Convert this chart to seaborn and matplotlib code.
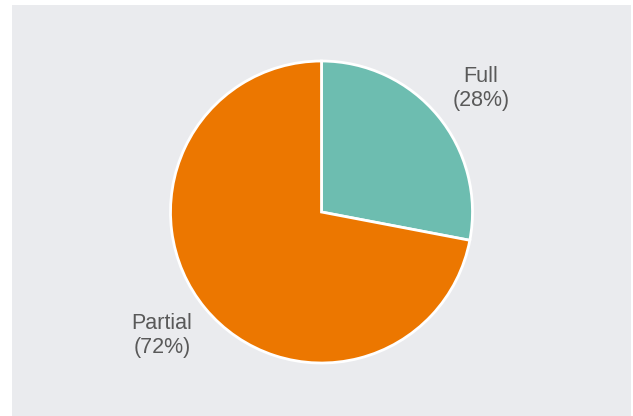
import matplotlib
matplotlib.use("Agg")
import numpy as np
import matplotlib.pyplot as plt
import seaborn as sns

categories = ["Full", "Partial"]
shares = [28, 72]
colors = sns.color_palette(["#6DBDB0", "#EC7700"])

sns.set_style("white")
plt.rcParams["font.family"] = ["Liberation Sans", "DejaVu Sans"]

W, H = 633, 416
fig = plt.figure(figsize=(W / 100, H / 100), dpi=100)
fig.patch.set_facecolor("white")

left, top, right = 12, 5, 631
ax = fig.add_axes([left / W, 0, (right - left) / W, (H - top) / H])
ax.set_facecolor("#EAEBEE")

labels = [f"{c}\n({v}%)" for c, v in zip(categories, shares)]
wedges, texts = ax.pie(
    shares,
    labels=labels,
    colors=colors,
    startangle=90,
    counterclock=False,
    wedgeprops=dict(edgecolor="white", linewidth=2),
    textprops=dict(color="#595959", fontsize=15.5),
    frame=True,
)
# place each label outside its wedge's mid-angle, slightly wider than tall
for w, t in zip(wedges, texts):
    mid = np.deg2rad((w.theta1 + w.theta2) / 2)
    t.set_position((1.37 * np.cos(mid), 1.28 * np.sin(mid)))
    t.set_horizontalalignment("center")
    t.set_verticalalignment("center")
    t.set_linespacing(1.2)

r_px = 151
ax_w = right - left
ax_h = H - top
ax.set_xlim(-ax_w / 2 / r_px, ax_w / 2 / r_px)
ax.set_ylim(-ax_h / 2 / r_px + 0.01, ax_h / 2 / r_px + 0.01)
ax.set_aspect("equal")
ax.set_xticks([])
ax.set_yticks([])
for s in ax.spines.values():
    s.set_visible(False)

fig.savefig("out.png", dpi=100)
